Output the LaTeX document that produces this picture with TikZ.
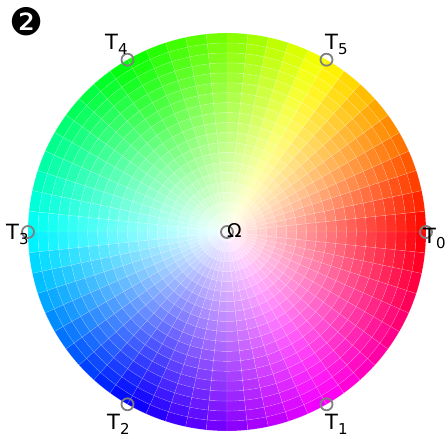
\documentclass[tikz,border=0pt]{standalone}
\usepackage{fontspec}
\setmainfont{DejaVu Sans}
\tikzset{
  marker/.style={circle, draw=black!50, line width=1.8pt, minimum size=12pt, inner sep=0pt},
  lab/.style={anchor=base west, inner sep=0pt, font=\fontsize{21}{24}\selectfont},
}
\newcommand{\Tlab}[1]{T\raisebox{-5pt}{\fontsize{15}{16}\selectfont #1}}
\begin{document}
\begin{tikzpicture}[x=1pt,y=1pt]
\useasboundingbox (0,0) rectangle (448,439);
\fill[white] (0,0) rectangle (448,439);
\begin{scope}[shift={(227,207)}]
\foreach \k in {0,...,59}{
  \foreach \j in {0,...,19}{
    \pgfmathsetmacro\hh{(\k*6+3)/360}
    \pgfmathsetmacro\ss{(\j+1)/20}
    \pgfmathsetmacro\ra{max(\j*199/20,0.01)}
    \pgfmathsetmacro\rb{(\j+1)*199/20}
    \pgfmathsetmacro\aa{\k*6}
    \pgfmathsetmacro\ab{\k*6+6}
    \definecolor{cellc}{hsb}{\hh,\ss,1}
    \fill[cellc, draw=white, draw opacity=0.25, line width=0.4pt]
      (\aa:\ra) arc[start angle=\aa, end angle=\ab, radius=\ra]
      -- (\ab:\rb) arc[start angle=\ab, end angle=\aa, radius=\rb] -- cycle;
  }
}
\end{scope}
\node[marker] (m0) at (426,207) {};
\node[marker] (m1) at (326.5,34.7) {};
\node[marker] (m2) at (127.5,34.7) {};
\node[marker] (m3) at (28,207) {};
\node[marker] (m4) at (127.5,379.3) {};
\node[marker] (m5) at (326.5,379.3) {};
\node[marker] (om) at (227,207) {};
\node[lab] (l4) at (105,389) {\Tlab{4}};
\node[lab] (l5) at (325,389) {\Tlab{5}};
\node[lab] (l0) at (423,195) {\Tlab{0}};
\node[lab] (l3) at (6,199) {\Tlab{3}};
\node[lab] (l2) at (107,9) {\Tlab{2}};
\node[lab] (l1) at (325,9) {\Tlab{1}};
\node[lab, font=\fontsize{19}{22}\selectfont] (omega) at (227,201) {Ω};
\node[inner sep=0pt, font=\fontsize{38}{40}\selectfont] (num) at (27,417) {❷};
\end{tikzpicture}
\end{document}
